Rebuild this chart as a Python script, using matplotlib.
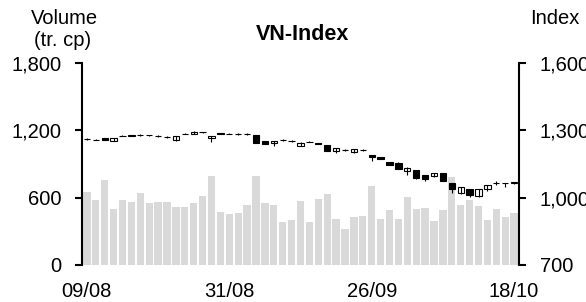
import numpy as np
import matplotlib
matplotlib.use('Agg')
import matplotlib.pyplot as plt
from matplotlib.ticker import FuncFormatter

plt.rcParams['font.family'] = ['Liberation Sans', 'DejaVu Sans']

# trading days 09/08 -> 18/10
tick_labels = ['09/08', '31/08', '26/09', '18/10']
tick_pos = [0, 16, 32, 48]

# volume (tr. cp)
volume = [650, 579, 760, 502, 579, 564, 639, 552, 561, 561,
          514, 514, 555, 612, 793, 469, 457, 460, 535, 793,
          552, 535, 386, 401, 570, 380, 588, 636, 407, 318,
          428, 440, 701, 410, 490, 410, 606, 499, 508, 392,
          493, 784, 538, 579, 529, 398, 499, 428, 463]

# VN-Index OHLC
open_ = [1262, 1258, 1265, 1253, 1276, 1276, 1278, 1278, 1276, 1270,
         1255, 1285, 1284, 1292, 1265, 1285, 1285, 1283, 1285, 1280,
         1253, 1242, 1256, 1254, 1232, 1250, 1244, 1233, 1208, 1213,
         1202, 1214, 1190, 1180, 1159, 1156, 1118, 1123, 1100, 1095,
         1109, 1064, 1019, 1037, 1007, 1037, 1066, 1065, 1067]
high = [1264, 1260, 1267, 1266, 1277, 1278, 1282, 1281, 1279, 1273,
        1276, 1286, 1295, 1294, 1276, 1288, 1287, 1287, 1289, 1281,
        1254, 1254, 1260, 1257, 1246, 1253, 1245, 1234, 1222, 1216,
        1217, 1216, 1191, 1181, 1160, 1157, 1135, 1125, 1101, 1110,
        1111, 1065, 1047, 1038, 1038, 1056, 1074, 1066, 1072]
low = [1258, 1255, 1255, 1251, 1273, 1274, 1275, 1274, 1272, 1266,
       1253, 1282, 1283, 1288, 1250, 1283, 1282, 1280, 1281, 1244,
       1238, 1230, 1253, 1250, 1231, 1247, 1240, 1208, 1199, 1209,
       1200, 1210, 1163, 1171, 1146, 1128, 1101, 1085, 1073, 1094,
       1075, 1022, 1017, 1002, 1005, 1031, 1058, 1046, 1063]
close = [1261, 1257, 1257, 1265, 1274, 1277, 1279, 1277, 1275, 1269,
         1275, 1283, 1293, 1291, 1275, 1286, 1284, 1284, 1285, 1245,
         1239, 1253, 1257, 1253, 1245, 1249, 1241, 1209, 1221, 1212,
         1216, 1211, 1180, 1172, 1147, 1129, 1134, 1086, 1082, 1109,
         1076, 1037, 1046, 1011, 1037, 1055, 1067, 1064, 1068]

x = np.arange(len(volume))
o = np.array(open_)
c = np.array(close)

fig = plt.figure(figsize=(5.86, 3.02), dpi=100)
ax = fig.add_axes([82 / 586, 37 / 302, 437 / 586, 202 / 302])
ax.bar(x, volume, width=0.82, color='#d9d9d9')
ax.set_ylim(0, 1800)
ax.set_yticks([0, 600, 1200, 1800])
ax.yaxis.set_major_formatter(FuncFormatter(lambda v, p: f'{int(v):,}'))
ax.set_xlim(-0.55, len(x) - 0.45)
ax.set_xticks(tick_pos)
ax.set_xticklabels(tick_labels)

ax2 = ax.twinx()
ax2.vlines(x, low, high, color='black', lw=0.8)
face = np.where(c >= o, 'white', 'black')
ax2.bar(x, np.abs(c - o), bottom=np.minimum(o, c), width=0.7,
        color=face, edgecolor='black', lw=0.8)
ax2.set_ylim(700, 1600)
ax2.set_yticks([700, 1000, 1300, 1600])
ax2.yaxis.set_major_formatter(FuncFormatter(lambda v, p: f'{int(v):,}'))

for a in (ax, ax2):
    a.spines['top'].set_visible(False)
    a.spines['bottom'].set_visible(False)
    a.tick_params(labelsize=14.5, length=5, width=1.5, pad=10)
    a.tick_params(axis='x', length=0, pad=12)
ax.spines['left'].set_linewidth(1.5)
ax.spines['right'].set_visible(False)
ax2.spines['left'].set_visible(False)
ax2.spines['right'].set_linewidth(1.5)

fig.text(303 / 586, 1 - 35 / 302, 'VN-Index', ha='center', va='center',
         fontsize=15.5, fontweight='bold')
fig.text(64 / 586, 1 - 18 / 302, 'Volume', ha='center', va='center', fontsize=14.5)
fig.text(63 / 586, 1 - 40 / 302, '(tr. cp)', ha='center', va='center', fontsize=14.5)
fig.text(555 / 586, 1 - 18 / 302, 'Index', ha='center', va='center', fontsize=14.5)

fig.savefig('out.png', dpi=100)
